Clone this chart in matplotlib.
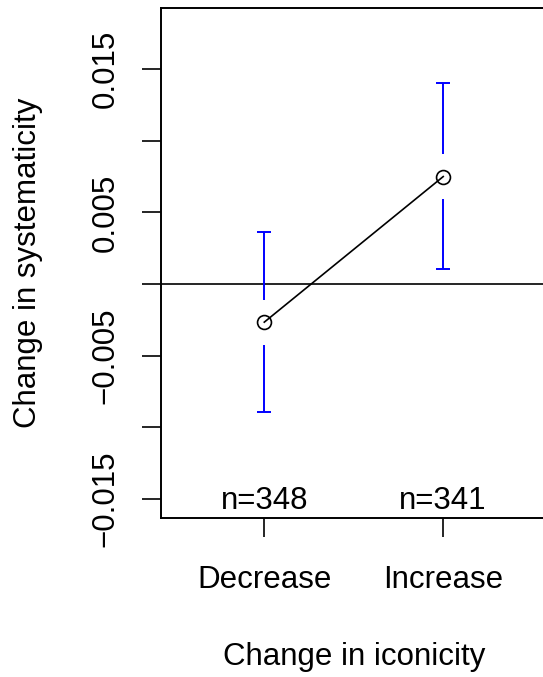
import matplotlib
matplotlib.use("Agg")
import matplotlib.pyplot as plt

# Data
groups = ["Decrease", "Increase"]
means = [-0.00266, 0.00751]
ci_lower = [-0.00891, 0.00107]
ci_upper = [0.00361, 0.01408]
counts = [348, 341]

y_ticks = [-0.015, -0.010, -0.005, 0.0, 0.005, 0.010, 0.015]
y_tick_labels = ["\u22120.015", "", "\u22120.005", "", "0.005", "", "0.015"]

plt.rcParams["font.family"] = ["Liberation Sans", "DejaVu Sans"]
FS = 22.5

W, H, DPI = 543, 677, 100
fig = plt.figure(figsize=(W / DPI, H / DPI), dpi=DPI)
left, right, top, bottom = 160.5, 547.0, 7.5, 517.7
ax = fig.add_axes([left / W, 1 - bottom / H, (right - left) / W, (bottom - top) / H])

x = [1, 2]
ax.set_xlim(0.42, 2.58)
ax.set_ylim(-0.01632, 0.01932)

# zero reference line
ax.axhline(0, color="black", lw=1.2, zorder=1)

# confidence intervals with a gap around each point
ax_h_px = (bottom - top)
ylo, yhi = ax.get_ylim()
gap = 22.5 * (yhi - ylo) / ax_h_px
blue = "#0000FF"
for xi, m, lo, hi in zip(x, means, ci_lower, ci_upper):
    ax.vlines(xi, m + gap, hi, color=blue, lw=1.4, zorder=2)
    ax.vlines(xi, lo, m - gap, color=blue, lw=1.4, zorder=2)
    ax.plot([xi, xi], [lo, hi], ls="none", marker="_", ms=10, mew=1.4,
            color=blue, zorder=2)

# group means
ax.plot(x, means, color="black", lw=1.2, marker="o", ms=10,
        mfc="none", mec="black", mew=1.2, zorder=3)

# sample sizes
for xi, n in zip(x, counts):
    ax.text(xi, -0.01571, f"n={n}", ha="center", va="baseline", fontsize=FS)

ax.set_xticks(x)
ax.set_xticklabels(groups, fontsize=FS)
ax.set_yticks(y_ticks)
ax.set_yticklabels(y_tick_labels, fontsize=FS, rotation=90, va="center")
ax.tick_params(axis="both", direction="out", length=13.7, width=1.2,
               color="black")
ax.tick_params(axis="x", pad=20)
ax.tick_params(axis="y", pad=15)

for s in ax.spines.values():
    s.set_linewidth(1.4)
    s.set_color("black")

ax.set_xlabel("Change in iconicity", fontsize=FS, labelpad=34)
ax.set_ylabel("Change in systematicity", fontsize=FS, labelpad=34)

fig.savefig("out.png", dpi=DPI)
